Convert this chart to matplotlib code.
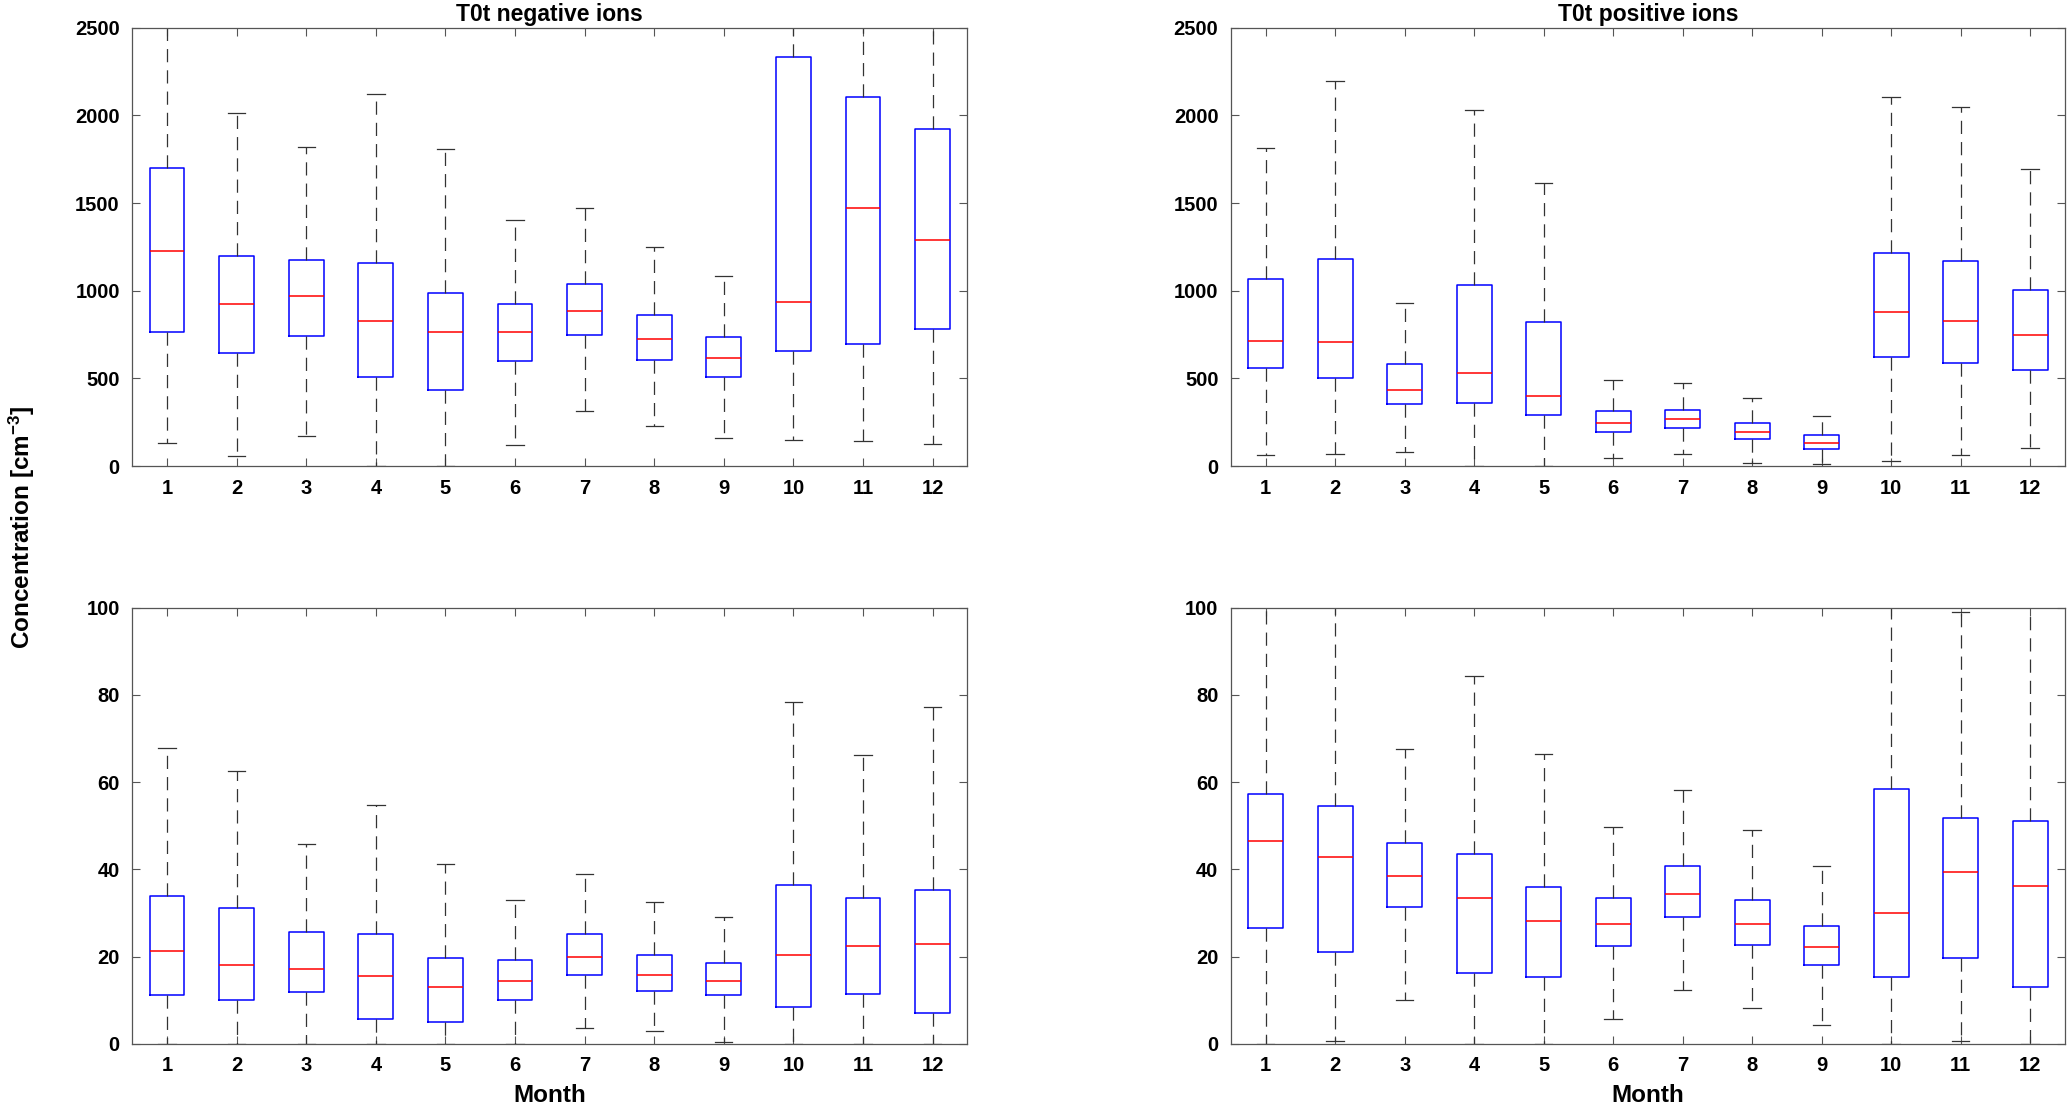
import numpy as np
import matplotlib
matplotlib.use('Agg')
import matplotlib.pyplot as plt

plt.rcParams['font.family'] = ['Liberation Sans', 'DejaVu Sans']
plt.rcParams['font.weight'] = 'bold'
plt.rcParams['mathtext.fontset'] = 'custom'
plt.rcParams['mathtext.bf'] = 'Liberation Sans:bold'
plt.rcParams['mathtext.rm'] = 'Liberation Sans:bold'
plt.rcParams['mathtext.default'] = 'bf'
plt.rcParams['lines.scale_dashes'] = False

months = [1, 2, 3, 4, 5, 6, 7, 8, 9, 10, 11, 12]

### T0t negative ions, large range
neg_hi = [2700, 2011, 1818, 2121, 1809, 1405, 1472, 1251, 1082, 2700, 2700, 2700]
neg_q3 = [1700, 1196, 1173, 1156, 986, 922, 1036, 864, 736, 2331, 2105, 1924]
neg_med = [1224, 925, 971, 828, 762, 762, 885, 727, 616, 933, 1473, 1291]
neg_q1 = [762, 644, 743, 510, 434, 598, 746, 605, 508, 658, 698, 779]
neg_lo = [129, 57, 171, 0, 0, 120, 314, 230, 162, 146, 144, 125]

### T0t positive ions, large range
pos_hi = [1813, 2197, 927, 2031, 1616, 489, 472, 390, 287, 2102, 2049, 1693]
pos_q3 = [1064, 1180, 583, 1032, 824, 312, 322, 248, 175, 1215, 1169, 1003]
pos_med = [714, 708, 436, 531, 398, 248, 268, 196, 133, 876, 828, 750]
pos_q1 = [562, 503, 354, 360, 289, 196, 219, 152, 99, 623, 586, 546]
pos_lo = [63, 67, 82, 0, 0, 48, 69, 19, 10, 27, 65, 101]

### negative ions, small range
negs_hi = [67.8, 62.5, 45.9, 54.8, 41.2, 33.1, 38.9, 32.5, 29.1, 78.4, 66.3, 77.2]
negs_q3 = [33.9, 31.2, 25.6, 25.3, 19.6, 19.2, 25.2, 20.3, 18.5, 36.4, 33.4, 35.4]
negs_med = [21.3, 18.0, 17.2, 15.5, 13.0, 14.4, 20.0, 15.7, 14.4, 20.4, 22.4, 22.8]
negs_q1 = [11.1, 10.1, 11.8, 5.6, 5.0, 10.1, 15.9, 12.1, 11.2, 8.5, 11.5, 7.1]
negs_lo = [0, 0, 0, 0, 0, 0, 3.6, 3.0, 0.5, 0, 0, 0]

### positive ions, small range
poss_hi = [110, 110, 67.5, 84.3, 66.5, 49.8, 58.1, 49.1, 40.7, 110, 99.0, 110]
poss_q3 = [57.3, 54.6, 46.0, 43.5, 35.9, 33.4, 40.8, 33.1, 27.1, 58.5, 51.8, 51.0]
poss_med = [46.5, 42.8, 38.5, 33.4, 28.2, 27.6, 34.4, 27.4, 22.2, 30.1, 39.4, 36.1]
poss_q1 = [26.6, 21.1, 31.5, 16.2, 15.4, 22.4, 29.2, 22.6, 18.0, 15.4, 19.8, 13.0]
poss_lo = [0, 0.6, 10.0, 0, 0, 5.8, 12.4, 8.2, 4.3, 0, 0.7, 0]


def make_stats(lo, q1, med, q3, hi):
    return [dict(whislo=a, q1=b, med=c, q3=d, whishi=e, fliers=[])
            for a, b, c, d, e in zip(lo, q1, med, q3, hi)]


def draw(ax, stats, ymax, yticks):
    ax.bxp(stats, positions=months, widths=0.5, capwidths=0.25,
           showfliers=False, patch_artist=False,
           boxprops=dict(color='#0000ff', linewidth=1.1),
           medianprops=dict(color='#ff0000', linewidth=1.1),
           whiskerprops=dict(color='#333333', linewidth=0.9, linestyle=(0, (9.5, 5.8))),
           capprops=dict(color='#333333', linewidth=0.9))
    ax.set_xlim(0.5, 12.5)
    ax.set_ylim(0, ymax)
    ax.set_xticks(months)
    ax.set_xticklabels([str(m) for m in months])
    ax.set_yticks(yticks)
    ax.tick_params(direction='in', top=True, right=True, length=6, width=0.8,
                   color='#555555', labelsize=14.5, pad=9)
    for s in ax.spines.values():
        s.set_color('#555555')
        s.set_linewidth(0.9)


fig = plt.figure(figsize=(20.67, 11.07), dpi=100)

ax1 = fig.add_axes([0.0640, 0.5790, 0.4040, 0.3960])
ax2 = fig.add_axes([0.5955, 0.5790, 0.4035, 0.3960])
ax3 = fig.add_axes([0.0640, 0.0570, 0.4040, 0.3940])
ax4 = fig.add_axes([0.5955, 0.0570, 0.4035, 0.3940])

big_ticks = [0, 500, 1000, 1500, 2000, 2500]
small_ticks = [0, 20, 40, 60, 80, 100]

draw(ax1, make_stats(neg_lo, neg_q1, neg_med, neg_q3, neg_hi), 2500, big_ticks)
draw(ax2, make_stats(pos_lo, pos_q1, pos_med, pos_q3, pos_hi), 2500, big_ticks)
draw(ax3, make_stats(negs_lo, negs_q1, negs_med, negs_q3, negs_hi), 100, small_ticks)
draw(ax4, make_stats(poss_lo, poss_q1, poss_med, poss_q3, poss_hi), 100, small_ticks)

ax1.set_title('T0t negative ions', fontsize=16.5, fontweight='bold', pad=5)
ax2.set_title('T0t positive ions', fontsize=16.5, fontweight='bold', pad=5)
ax3.set_xlabel('Month', fontsize=17.5, fontweight='bold', labelpad=6)
ax4.set_xlabel('Month', fontsize=17.5, fontweight='bold', labelpad=6)

fig.text(0.0105, 0.524, 'Concentration [cm$^{-3}$]', rotation=90,
         fontsize=17.5, fontweight='bold', ha='center', va='center')

fig.savefig('out.png', dpi=100)
